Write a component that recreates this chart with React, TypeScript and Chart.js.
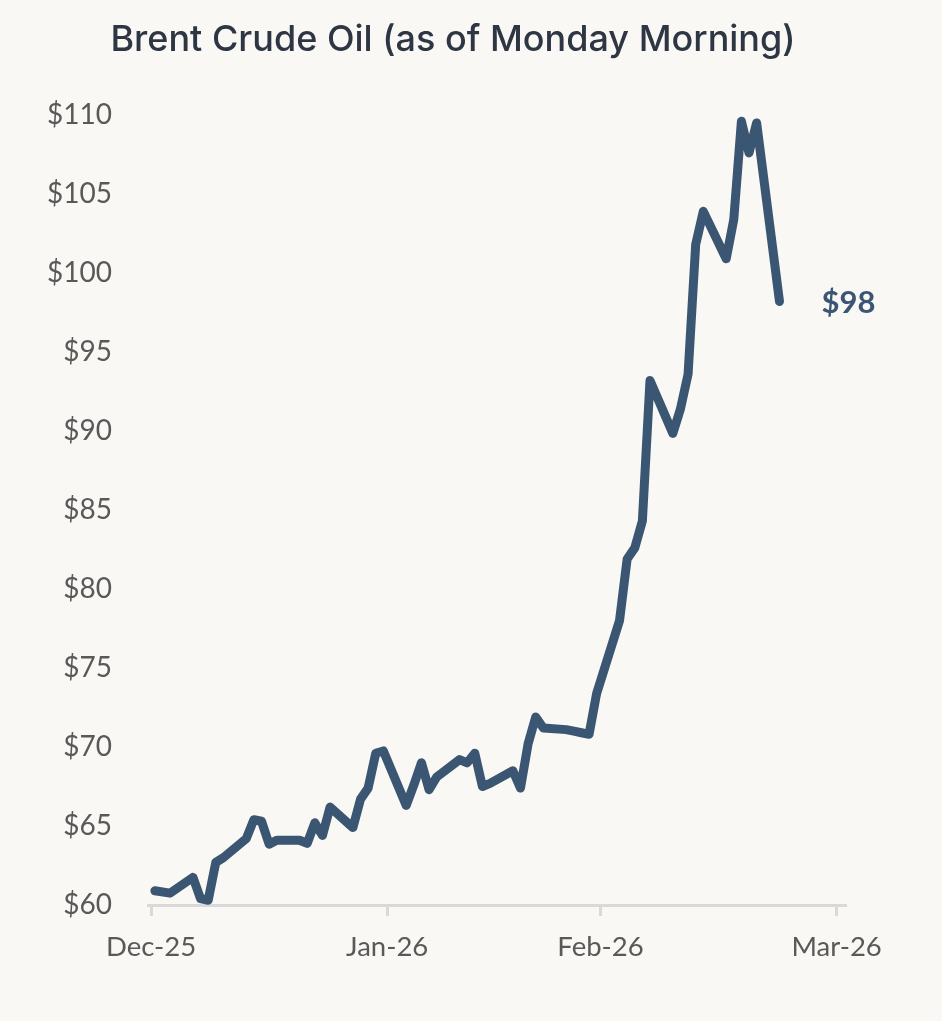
import { useEffect, useRef } from "react";
import { Chart, registerables } from "chart.js";

Chart.register(...registerables);

const TITLE = "Brent Crude Oil (as of Monday Morning)";
const BASE_DATE = "2025-12-31";

const dates = [
  "2025-12-31", "2026-01-02",
  "2026-01-05", "2026-01-06", "2026-01-07", "2026-01-08", "2026-01-09",
  "2026-01-12", "2026-01-13", "2026-01-14", "2026-01-15", "2026-01-16",
  "2026-01-19", "2026-01-20", "2026-01-21", "2026-01-22", "2026-01-23",
  "2026-01-26", "2026-01-27", "2026-01-28", "2026-01-29", "2026-01-30",
  "2026-02-02", "2026-02-03", "2026-02-04", "2026-02-05", "2026-02-06",
  "2026-02-09", "2026-02-10", "2026-02-11", "2026-02-12", "2026-02-13",
  "2026-02-16", "2026-02-17", "2026-02-18", "2026-02-19", "2026-02-20",
  "2026-02-23", "2026-02-24", "2026-02-25", "2026-02-26", "2026-02-27",
  "2026-03-02", "2026-03-03", "2026-03-04", "2026-03-05", "2026-03-06",
  "2026-03-09", "2026-03-10", "2026-03-11", "2026-03-12", "2026-03-13",
  "2026-03-16", "2026-03-17", "2026-03-18", "2026-03-19", "2026-03-20",
  "2026-03-23",
];

const prices = [
  60.9, 60.75,
  61.75, 60.4, 60.3, 62.7, 63.0,
  64.2, 65.4, 65.3, 63.85, 64.1,
  64.1, 63.9, 65.2, 64.4, 66.2,
  64.9, 66.7, 67.4, 69.6, 69.75,
  66.3, 67.6, 69.0, 67.3, 68.1,
  69.2, 69.0, 69.6, 67.5, 67.7,
  68.5, 67.4, 70.2, 71.9, 71.2,
  71.1, 71.0, 70.9, 70.8, 73.4,
  78.0, 81.9, 82.6, 84.3, 93.2,
  89.85, 91.4, 93.6, 101.8, 103.9,
  100.9, 103.4, 109.6, 107.6, 109.5,
  98.2,
];

const xTickDates = ["2025-12-31", "2026-01-31", "2026-02-28", "2026-03-31"];
const xTickLabels = ["Dec-25", "Jan-26", "Feb-26", "Mar-26"];
const yMin = 60;
const yMax = 110;
const yStep = 5;
const lastLabel = "$98";

const LINE_COLOR = "#3a5673";
const TEXT_COLOR = "#595959";
const AXIS_COLOR = "#d9d9d9";
const BG = "#f9f8f5";

const dayOffset = (d: string) =>
  Math.round((Date.parse(d) - Date.parse(BASE_DATE)) / 86400000);

export default function App() {
  const ref = useRef<HTMLCanvasElement | null>(null);

  useEffect(() => {
    if (!ref.current) return;
    const points = dates.map((d, i) => ({ x: dayOffset(d) + 0.5, y: prices[i] }));
    const tickValues = xTickDates.map(dayOffset);

    const overlay = {
      id: "overlay",
      afterDraw(chart: any) {
        const ctx = chart.ctx;
        ctx.save();
        ctx.fillStyle = "#2e3644";
        ctx.font = "500 36px Inter";
        ctx.textAlign = "center";
        ctx.textBaseline = "middle";
        ctx.fillText(TITLE, 453, 40);
        const meta = chart.getDatasetMeta(0);
        const last = meta.data[meta.data.length - 1];
        ctx.fillStyle = LINE_COLOR;
        ctx.font = "bold 31px Lato";
        ctx.textAlign = "left";
        ctx.fillText(lastLabel, last.x + 42, last.y + 2);
        ctx.restore();
      },
    };

    const chart = new Chart(ref.current, {
      type: "line",
      data: {
        datasets: [
          {
            data: points,
            borderColor: LINE_COLOR,
            borderWidth: 9,
            pointRadius: 0,
            borderJoinStyle: "round",
            borderCapStyle: "round",
            tension: 0,
            clip: false as any,
          },
        ],
      },
      options: {
        animation: false,
        responsive: true,
        maintainAspectRatio: false,
        layout: { padding: { left: 0, right: 97, top: 115, bottom: 36 } },
        plugins: { legend: { display: false }, tooltip: { enabled: false }, title: { display: false } },
        scales: {
          x: {
            type: "linear",
            min: -0.4,
            max: 91.1,
            afterBuildTicks: (scale: any) => {
              scale.ticks = tickValues.map((v) => ({ value: v }));
            },
            afterFit: (scale: any) => {
              scale.height = 80;
            },
            ticks: {
              autoSkip: false,
              maxRotation: 0,
              color: TEXT_COLOR,
              font: { family: "Lato", size: 27.5 },
              padding: 15,
              callback: (_v: any, i: number) => xTickLabels[i],
            },
            grid: {
              drawOnChartArea: false,
              drawTicks: true,
              tickLength: 11,
              color: AXIS_COLOR,
              lineWidth: 3,
            },
            border: { display: true, color: AXIS_COLOR, width: 3 },
          },
          y: {
            min: yMin,
            max: yMax,
            afterFit: (scale: any) => {
              scale.width = 148;
            },
            ticks: {
              stepSize: yStep,
              color: TEXT_COLOR,
              font: { family: "Lato", size: 28 },
              padding: 36,
              callback: (v: any) => "$" + v,
            },
            grid: { display: false, drawTicks: false },
            border: { display: false },
          },
        },
      },
      plugins: [overlay],
    });
    return () => chart.destroy();
  }, []);

  return (
    <div style={{ position: "absolute", left: 0, top: 0, width: 942, height: 1021, background: BG }}>
      <canvas ref={ref} />
    </div>
  );
}
